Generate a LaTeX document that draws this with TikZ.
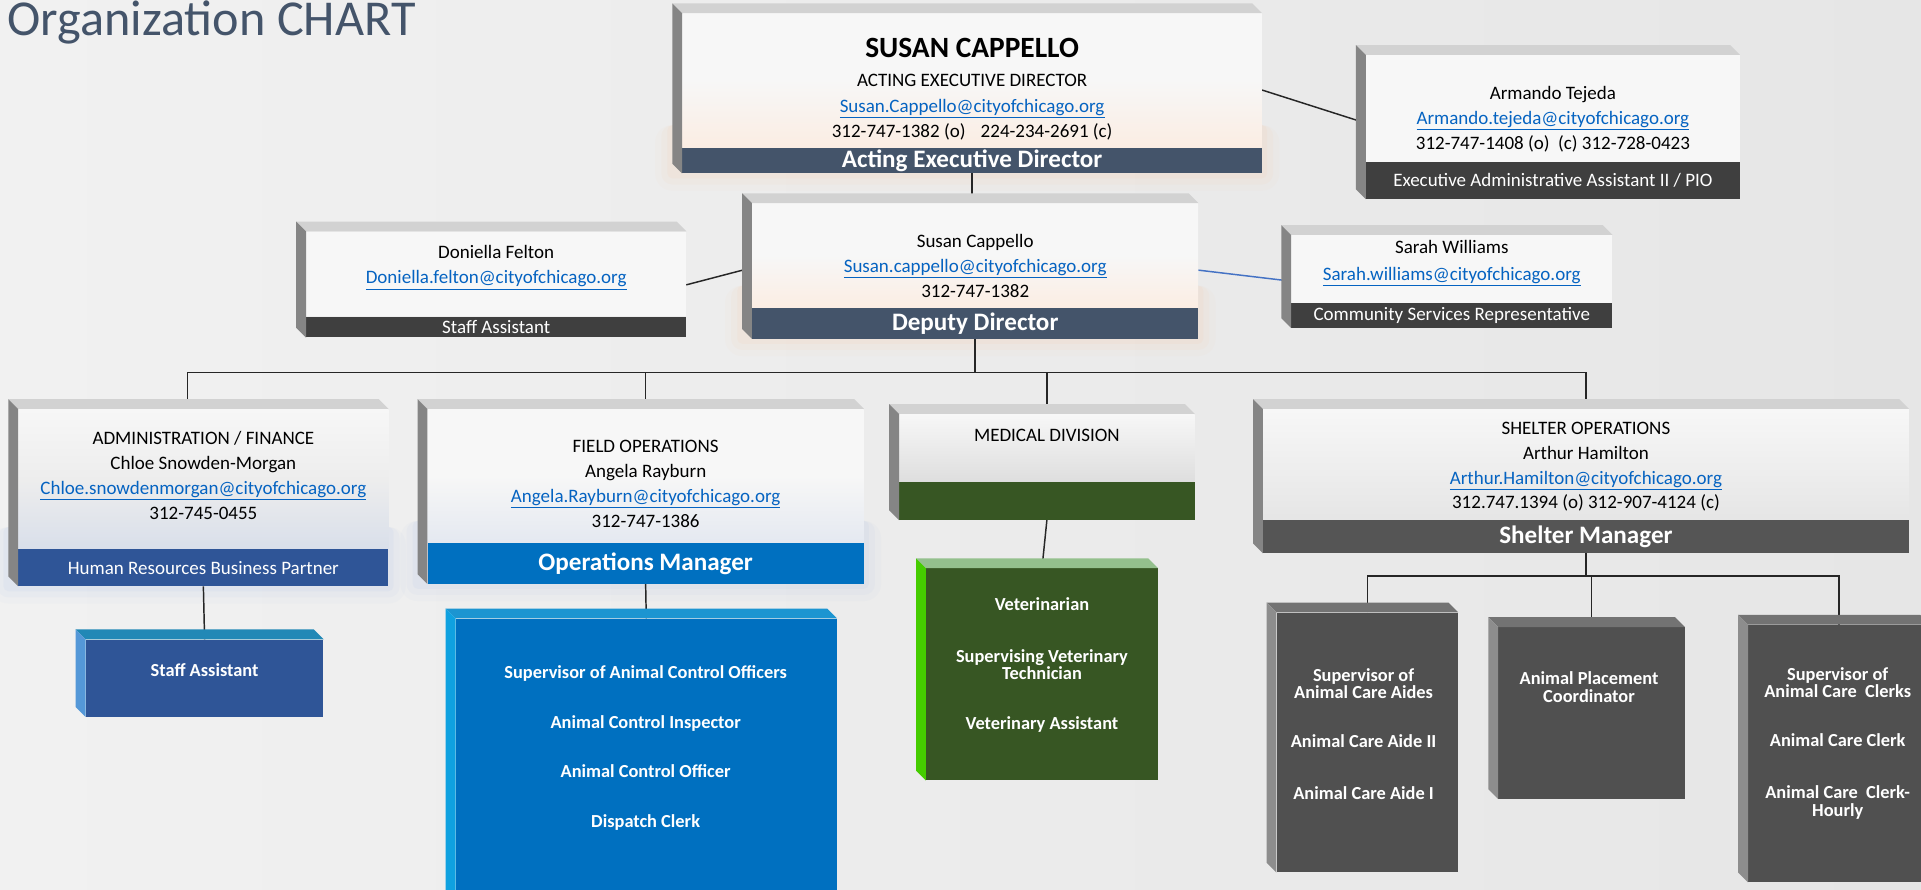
\documentclass[tikz,border=0pt]{standalone}
\usepackage{fontspec}
\setmainfont{Carlito}
\usetikzlibrary{positioning,calc,backgrounds}

\definecolor{slate}{HTML}{44546A}
\definecolor{charcoal}{HTML}{3F3F3F}
\definecolor{shelgray}{HTML}{555555}
\definecolor{hrblue}{HTML}{2F5597}
\definecolor{opsblue}{HTML}{0070C0}
\definecolor{medgreen}{HTML}{375623}
\definecolor{boxgray}{HTML}{505050}
\definecolor{maillink}{HTML}{0563C1}
\definecolor{linkblue}{HTML}{4472C4}
\definecolor{cardwhite}{HTML}{F7F7F7}
\definecolor{peach}{HTML}{FBEDE3}
\definecolor{glowpeach}{HTML}{F8CBAD}
\definecolor{glowblue}{HTML}{B4C7E7}
\definecolor{hazeblue}{HTML}{D9DFEA}
\definecolor{hazegray}{HTML}{DEDEDE}
\definecolor{facetop}{HTML}{D2D2D2}
\definecolor{faceside}{HTML}{858585}
\definecolor{bgleft}{HTML}{F1F1F1}
\definecolor{bgright}{HTML}{E6E6E6}

\newcommand{\chimail}[1]{\textcolor{maillink}{\underline{#1}}}
% 3D faces of a box: front top node, front bottom node, top colour, side colour
\newcommand{\boxbevel}[4]{%
  \fill[#3] ($(#1.north west)+(-8,-8)$) -- ($(#1.north east)+(-8,-8)$) -- (#1.north east) -- (#1.north west) -- cycle;
  \fill[#4] ($(#1.north west)+(-8,-8)$) -- (#1.north west) -- (#2.south west) -- ($(#2.south west)+(-8,-8)$) -- cycle;}

\begin{document}
\begin{tikzpicture}[x=1pt,y=-1pt]
	\tikzstyle{card}=[rectangle,inner sep=0pt]
	\tikzstyle{bar}=[rectangle,inner sep=0pt,text=white,font=\fontsize{15.5}{17}\selectfont]
	\tikzstyle{headbar}=[bar,font=\fontsize{20.5}{22}\selectfont\bfseries]
	\tikzstyle{txt}=[align=center,inner sep=0pt,font=\fontsize{15.5}{20.5}\selectfont]
	\tikzstyle{post}=[rectangle,inner sep=0pt]
	\tikzstyle{posttxt}=[align=center,inner sep=0pt,text=white,font=\fontsize{15}{14.5}\selectfont\bfseries]
	\tikzstyle{wire}=[draw=black!85,line width=1.2pt]

	\useasboundingbox (0,0) rectangle (1568,726);

	\node[anchor=base west,inner sep=0pt,text=slate,font=\fontsize{41}{44}\selectfont] (title) at (6,29) {Organization CHART};

	% director level
	\node[card,minimum width=473,minimum height=109,top color=cardwhite,bottom color=peach,middle color=cardwhite] (EX) at (793.5,65.5) {};
	\node[headbar,fill=slate,minimum width=473,minimum height=21,below=0pt of EX] (EXbar) {Acting Executive Director};
	\node[inner sep=0pt,font=\fontsize{24}{26}\selectfont\bfseries] (EXname) at (793.5,39) {SUSAN CAPPELLO};
	\node[txt] (EXtxt) at (793.5,87.5) {ACTING EXECUTIVE DIRECTOR\\ \chimail{Susan.Cappello@cityofchicago.org}\\ 312-747-1382 (o)\hspace{0.8em}224-234-2691 (c)};
	\boxbevel{EX}{EXbar}{facetop}{faceside}

	\node[card,fill=cardwhite,minimum width=305,minimum height=87] (AR) at (1267.5,88.5) {};
	\node[bar,fill=charcoal,minimum width=305,minimum height=30,below=0pt of AR] (ARbar) {Executive Administrative Assistant II / PIO};
	\node[txt] (ARtxt) at (1267.5,97.5) {Armando Tejeda\\ \chimail{Armando.tejeda@cityofchicago.org}\\ 312-747-1408 (o)\ \ (c) 312-728-0423};
	\boxbevel{AR}{ARbar}{facetop}{faceside}

	\node[card,minimum width=364,minimum height=85,top color=cardwhite,bottom color=peach,middle color=cardwhite] (DP) at (796,208.5) {};
	\node[headbar,fill=slate,minimum width=364,minimum height=25,below=0pt of DP] (DPbar) {Deputy Director};
	\node[txt] (DPtxt) at (796,217) {Susan Cappello\\ \chimail{Susan.cappello@cityofchicago.org}\\ 312-747-1382};
	\boxbevel{DP}{DPbar}{facetop}{faceside}

	\node[card,fill=cardwhite,minimum width=310,minimum height=69] (DF) at (405,223.5) {};
	\node[bar,fill=charcoal,minimum width=310,minimum height=17,below=0pt of DF] (DFbar) {Staff Assistant};
	\node[txt] (DFtxt) at (405,218.5) {Doniella Felton\\ \chimail{Doniella.felton@cityofchicago.org}};
	\boxbevel{DF}{DFbar}{facetop}{faceside}

	\node[card,fill=cardwhite,minimum width=262,minimum height=55] (SW) at (1185,219.5) {};
	\node[bar,fill=charcoal,minimum width=262,minimum height=20,below=0pt of SW] (SWbar) {Community Services Representative};
	\node[txt,font=\fontsize{15.5}{22}\selectfont] (SWtxt) at (1185,214.5) {Sarah Williams\\ \chimail{Sarah.williams@cityofchicago.org}};
	\boxbevel{SW}{SWbar}{facetop}{faceside}

	% divisions
	\node[card,minimum width=302,minimum height=114,top color=cardwhite,bottom color=hazeblue,middle color=cardwhite!96!black] (AD) at (166,391) {};
	\node[bar,fill=hrblue,minimum width=302,minimum height=30,below=0pt of AD] (ADbar) {Human Resources Business Partner};
	\node[txt] (ADtxt) at (166,388) {ADMINISTRATION / FINANCE\\ Chloe Snowden-Morgan\\ \chimail{Chloe.snowdenmorgan@cityofchicago.org}\\ 312-745-0455};
	\boxbevel{AD}{ADbar}{facetop}{faceside}

	\node[card,minimum width=356,minimum height=109,top color=cardwhite,bottom color=hazeblue!70!white,middle color=cardwhite] (FO) at (527,388.5) {};
	\node[headbar,fill=opsblue,minimum width=356,minimum height=33,below=0pt of FO] (FObar) {Operations Manager};
	\node[txt,font=\fontsize{15.5}{20.3}\selectfont] (FOtxt) at (527,395) {FIELD OPERATIONS\\ Angela Rayburn\\ \chimail{Angela.Rayburn@cityofchicago.org}\\ 312-747-1386};
	\boxbevel{FO}{FObar}{facetop}{faceside}

	\node[card,minimum width=241,minimum height=55,top color=cardwhite,bottom color=hazegray] (MD) at (854.5,365.5) {};
	\node[bar,fill=medgreen,minimum width=241,minimum height=31,below=0pt of MD] (MDbar) {};
	\node[txt] (MDtxt) at (854.5,355.5) {MEDICAL DIVISION};
	\boxbevel{MD}{MDbar}{facetop}{faceside}

	\node[card,minimum width=527,minimum height=90,top color=cardwhite,bottom color=hazegray!70!cardwhite] (SH) at (1294.5,379) {};
	\node[headbar,fill=shelgray,minimum width=527,minimum height=27,below=0pt of SH] (SHbar) {Shelter Manager};
	\node[txt,font=\fontsize{15.5}{20.3}\selectfont] (SHtxt) at (1294.5,381) {SHELTER OPERATIONS\\ Arthur Hamilton\\ \chimail{Arthur.Hamilton@cityofchicago.org}\\ 312.747.1394 (o) 312-907-4124 (c)};
	\boxbevel{SH}{SHbar}{facetop}{faceside}

	% staff under the divisions
	\node[post,fill=hrblue,minimum width=194,minimum height=63] (SA) at (167,553.5) {};
	\node[posttxt] (SAtxt) at (167,547) {Staff Assistant};
	\boxbevel{SA}{SA}{hrblue!70!cyan}{cyan!60!blue!70!white}

	\node[post,fill=opsblue,minimum width=311,minimum height=235] (OPS) at (527.5,622.5) {};
	\node[posttxt,font=\fontsize{15}{40.7}\selectfont\bfseries] (OPStxt) at (527,610.5) {Supervisor of Animal Control Officers\\ Animal Control Inspector\\ Animal Control Officer\\ Dispatch Clerk};
	\boxbevel{OPS}{OPS}{cyan!60!opsblue}{cyan!80!opsblue}

	\node[post,fill=medgreen,minimum width=189,minimum height=173] (VET) at (850.5,550.5) {};
	\node[posttxt,font=\fontsize{15}{14}\selectfont\bfseries] (VETtxt) at (850.5,543) {Veterinarian\\[28pt] Supervising Veterinary\\ Technician\\[27pt] Veterinary Assistant};
	\boxbevel{VET}{VET}{medgreen!75!green!50!white}{green!55!lime!80!black}

	\node[post,fill=boxgray,minimum width=148,minimum height=212] (CA) at (1116,606) {};
	\node[posttxt] (CAtxt) at (1113,599) {Supervisor of\\ Animal Care Aides\\[25.5pt] Animal Care Aide II\\[27.5pt] Animal Care Aide I};
	\boxbevel{CA}{CA}{boxgray!80!white}{boxgray!65!white}

	\node[post,fill=boxgray,minimum width=152,minimum height=140] (PL) at (1299,582) {};
	\node[posttxt] (PLtxt) at (1297,561) {Animal Placement\\ Coordinator};
	\boxbevel{PL}{PL}{boxgray!80!white}{boxgray!65!white}

	\node[post,fill=boxgray,minimum width=148,minimum height=210] (CC) at (1501,615) {};
	\node[posttxt] (CCtxt) at (1500,606.5) {Supervisor of\\ Animal Care\ \ Clerks\\[25.5pt] Animal Care Clerk\\[27.5pt] Animal Care\ \ Clerk-\\ Hourly};
	\boxbevel{CC}{CC}{boxgray!80!white}{boxgray!65!white}

	\begin{pgfonlayer}{background}
		\shade[left color=bgleft,right color=bgright] (0,0) rectangle (1568,726);
		% soft glow round the lower edge of some boxes
		\foreach \g/\o in {14/0.06,9/0.09,4/0.12}
		{
			\fill[glowpeach,opacity=\o,rounded corners=\g] ($(EXbar.north west)+(-\g-8,-18)$) rectangle ($(EXbar.south east)+(\g,\g)$);
			\fill[glowpeach,opacity=\o,rounded corners=\g] ($(DPbar.north west)+(-\g-8,-18)$) rectangle ($(DPbar.south east)+(\g,\g)$);
			\fill[glowblue,opacity=\o,rounded corners=\g] ($(ADbar.north west)+(-\g-8,-18)$) rectangle ($(ADbar.south east)+(\g,\g)$);
			\fill[glowblue,opacity=\o,rounded corners=\g] ($(FObar.north west)+(-\g-8,-18)$) rectangle ($(FObar.south east)+(\g,\g)$);
		}

		\draw[wire] (EXbar.south) -- (EXbar.south |- DP.north);
		\draw[wire] ([yshift=-8pt]EX.east) -- ([yshift=-12pt]AR.west);
		\draw[wire] ([yshift=-9pt]DF.east) -- ([yshift=-10pt]DP.west);
		\draw[wire,draw=linkblue] ([yshift=-12pt]DP.east) -- ([yshift=-10pt]SW.west);

		\coordinate (bus) at (795,304);
		\draw[wire] (DPbar.south) -- (DPbar.south |- bus);
		\draw[wire] ([xshift=-13pt]AD.north) -- ([xshift=-13pt]AD.north |- bus) -| (SH.north);
		\draw[wire] (FO.north) -- (FO.north |- bus);
		\draw[wire] (MD.north) -- (MD.north |- bus);

		\draw[wire] (ADbar.south) -- (SA.north);
		\draw[wire] (FObar.south) -- (OPS.north);
		\draw[wire] (MDbar.south) -- (VET.north);

		\coordinate (bus2) at (1299,470);
		\draw[wire] (SHbar.south) -- (SHbar.south |- bus2);
		\draw[wire] (CA.north) -- (CA.north |- bus2) -| (CC.north);
		\draw[wire] (PL.north) -- (PL.north |- bus2);
	\end{pgfonlayer}
\end{tikzpicture}
\end{document}
